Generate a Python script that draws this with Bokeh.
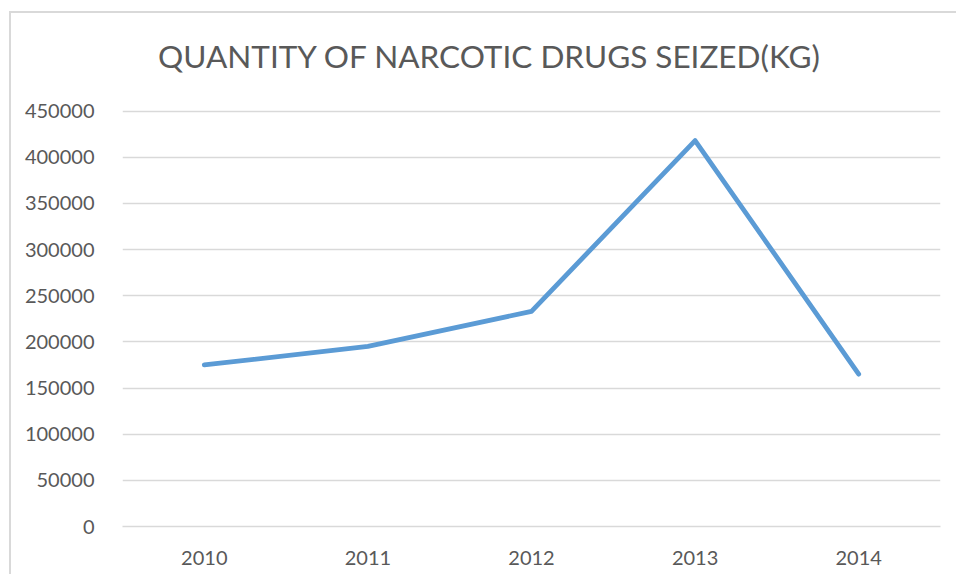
from bokeh.plotting import figure
from bokeh.models import Range1d, FixedTicker, NumeralTickFormatter, Label
from bokeh.embed import file_html
from bokeh.resources import INLINE

# ---- data ----
years = ["2010", "2011", "2012", "2013", "2014"]
seized_kg = [175000, 195000, 233000, 418000, 165000]
y_ticks = [0, 50000, 100000, 150000, 200000, 250000, 300000, 350000, 400000, 450000]
y_max = 450000
title_text = "QUANTITY OF NARCOTIC DRUGS SEIZED(KG)"

TXT = "#595959"
GRID = "#d9d9d9"
FONT = "Lato"

# layout (pixels)
W, H = 947, 563
BORDER_BOTTOM = 50
FRAME_H = H - BORDER_BOTTOM          # frame spans from canvas top
VALUE_AREA_H = 415.5                 # pixels from 0 to 450000
TITLE_BASELINE_ABOVE_ZERO = 471.0    # pixels above zero line
TITLE_CENTER_X = 2.246               # in categorical units (0..5)

y_end = y_max * FRAME_H / VALUE_AREA_H
y_title = y_max * TITLE_BASELINE_ABOVE_ZERO / VALUE_AREA_H

p = figure(
    x_range=years,
    y_range=Range1d(0, y_end),
    width=W, height=H,
    output_backend="svg",
    toolbar_location=None,
    min_border_left=111, min_border_right=18,
    min_border_top=0, min_border_bottom=BORDER_BOTTOM,
)
p.title = None
p.margin = (11, 0, 0, 9)
p.styles = {"border-left": "2px solid #d9d9d9", "border-top": "2px solid #d9d9d9"}

title = Label(x=TITLE_CENTER_X, y=y_title,
              text=title_text, text_align="center", text_baseline="alphabetic",
              text_font=FONT, text_font_size="31.5px", text_color=TXT)
p.add_layout(title)

p.line(years, seized_kg, line_width=4.8, color="#5B9BD5",
       line_join="round", line_cap="round")

p.outline_line_color = None
p.xgrid.visible = False
p.ygrid.grid_line_color = GRID
p.ygrid.grid_line_width = 1.5

p.yaxis.ticker = FixedTicker(ticks=y_ticks)
p.yaxis.formatter = NumeralTickFormatter(format="0")
p.yaxis.axis_line_color = None
p.yaxis.major_tick_line_color = None
p.yaxis.minor_tick_line_color = None
p.yaxis.major_label_standoff = 22
p.yaxis.major_label_text_font = FONT
p.yaxis.major_label_text_font_size = "20px"
p.yaxis.major_label_text_color = TXT

p.xaxis.axis_line_color = GRID
p.xaxis.axis_line_width = 1.5
p.xaxis.major_tick_line_color = None
p.xaxis.minor_tick_line_color = None
p.xaxis.major_label_standoff = 18
p.xaxis.major_label_text_font = FONT
p.xaxis.major_label_text_font_size = "20px"
p.xaxis.major_label_text_color = TXT

open("out.html", "w").write(file_html(p, INLINE))
